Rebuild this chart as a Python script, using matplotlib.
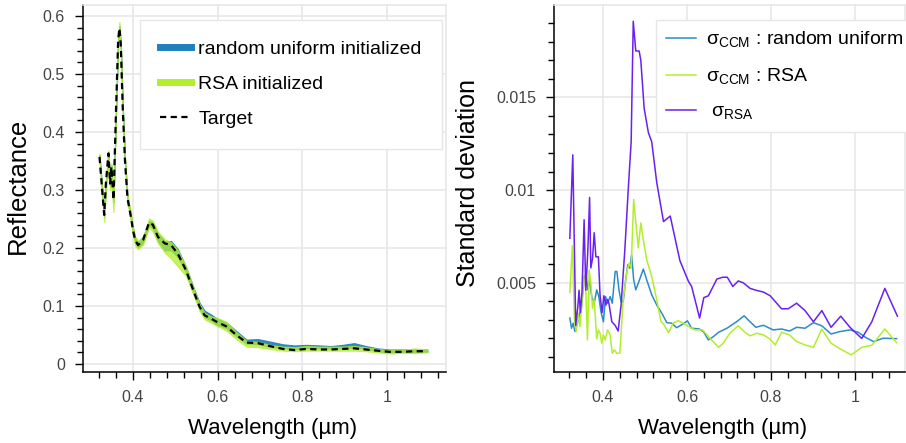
import numpy as np
import matplotlib
matplotlib.use("Agg")
import matplotlib.pyplot as plt
from matplotlib.lines import Line2D
from matplotlib.ticker import MultipleLocator, FixedLocator, FuncFormatter

plt.rcParams['font.family'] = ['Liberation Sans', 'DejaVu Sans']
plt.rcParams['mathtext.fontset'] = 'custom'
plt.rcParams['mathtext.rm'] = 'Liberation Sans'

# ---- left panel: reflectance ----
wl = [0.321, 0.326, 0.332, 0.336, 0.342, 0.346, 0.349, 0.354, 0.360, 0.365,
      0.368, 0.371, 0.376, 0.381, 0.387, 0.395, 0.400, 0.405, 0.412, 0.424,
      0.438, 0.447, 0.459, 0.475, 0.490, 0.506, 0.525, 0.545, 0.557, 0.569,
      0.585, 0.597, 0.620, 0.644, 0.668, 0.695, 0.722, 0.754, 0.781, 0.809,
      0.840, 0.868, 0.895, 0.922, 0.950, 0.977, 1.005, 1.035, 1.065, 1.095]
target = [0.357, 0.311, 0.257, 0.311, 0.363, 0.311, 0.340, 0.283, 0.438, 0.559,
          0.579, 0.553, 0.438, 0.352, 0.286, 0.254, 0.231, 0.214, 0.205, 0.214,
          0.244, 0.240, 0.219, 0.208, 0.205, 0.190, 0.162, 0.122, 0.099, 0.084,
          0.078, 0.073, 0.065, 0.050, 0.037, 0.036, 0.031, 0.026, 0.024, 0.026,
          0.025, 0.025, 0.026, 0.027, 0.025, 0.023, 0.021, 0.021, 0.022, 0.022]
ru_hi = [0.360, 0.315, 0.262, 0.315, 0.366, 0.315, 0.343, 0.288, 0.442, 0.563,
         0.583, 0.557, 0.442, 0.356, 0.290, 0.258, 0.235, 0.218, 0.210, 0.220,
         0.247, 0.244, 0.225, 0.212, 0.212, 0.198, 0.168, 0.128, 0.106, 0.092,
         0.085, 0.079, 0.072, 0.057, 0.042, 0.043, 0.039, 0.034, 0.032, 0.033,
         0.032, 0.031, 0.033, 0.036, 0.031, 0.027, 0.025, 0.025, 0.025, 0.025]
ru_lo = [0.353, 0.307, 0.253, 0.307, 0.359, 0.307, 0.336, 0.279, 0.434, 0.555,
         0.575, 0.549, 0.434, 0.348, 0.282, 0.250, 0.227, 0.209, 0.201, 0.209,
         0.239, 0.234, 0.212, 0.196, 0.196, 0.184, 0.158, 0.118, 0.096, 0.081,
         0.075, 0.068, 0.062, 0.048, 0.035, 0.034, 0.030, 0.027, 0.026, 0.027,
         0.027, 0.027, 0.027, 0.028, 0.026, 0.022, 0.020, 0.021, 0.021, 0.021]
rsa_hi = [0.362, 0.318, 0.265, 0.318, 0.368, 0.318, 0.346, 0.290, 0.446, 0.566,
          0.590, 0.562, 0.446, 0.360, 0.293, 0.262, 0.238, 0.220, 0.212, 0.220,
          0.251, 0.247, 0.228, 0.215, 0.210, 0.196, 0.168, 0.127, 0.104, 0.088,
          0.082, 0.080, 0.073, 0.055, 0.040, 0.038, 0.033, 0.030, 0.029, 0.031,
          0.030, 0.030, 0.030, 0.031, 0.029, 0.026, 0.024, 0.024, 0.027, 0.025]
rsa_lo = [0.350, 0.300, 0.245, 0.295, 0.340, 0.300, 0.310, 0.262, 0.425, 0.550,
          0.570, 0.545, 0.428, 0.344, 0.278, 0.245, 0.222, 0.204, 0.198, 0.206,
          0.236, 0.228, 0.208, 0.192, 0.182, 0.168, 0.152, 0.115, 0.092, 0.077,
          0.071, 0.066, 0.058, 0.043, 0.030, 0.029, 0.026, 0.023, 0.022, 0.023,
          0.023, 0.023, 0.023, 0.023, 0.022, 0.020, 0.018, 0.019, 0.019, 0.020]

# ---- right panel: standard deviations ----
wl_ru = [0.321, 0.325, 0.329, 0.333, 0.340, 0.345, 0.349, 0.353, 0.359, 0.364,
         0.368, 0.373, 0.379, 0.385, 0.390, 0.395, 0.401, 0.406, 0.411, 0.417,
         0.422, 0.429, 0.433, 0.438, 0.443, 0.448, 0.454, 0.459, 0.464, 0.468,
         0.473, 0.478, 0.484, 0.496, 0.504, 0.516, 0.528, 0.540, 0.552, 0.564,
         0.575, 0.587, 0.601, 0.611, 0.629, 0.639, 0.651, 0.663, 0.675, 0.695,
         0.718, 0.736, 0.750, 0.764, 0.782, 0.805, 0.825, 0.844, 0.861, 0.881,
         0.901, 0.921, 0.943, 0.964, 0.988, 1.008, 1.024, 1.044, 1.067, 1.099]
sd_ru = [0.00310, 0.00255, 0.00282, 0.00237, 0.00290, 0.00336, 0.00372, 0.00480, 0.00552, 0.00462,
         0.00516, 0.00426, 0.00390, 0.00462, 0.00426, 0.00345, 0.00290, 0.00426, 0.00390, 0.00426,
         0.00390, 0.00561, 0.00561, 0.00462, 0.00399, 0.00399, 0.00516, 0.00597, 0.00579, 0.00651,
         0.00516, 0.00462, 0.00498, 0.00574, 0.00516, 0.00435, 0.00380, 0.00336, 0.00285, 0.00282,
         0.00258, 0.00273, 0.00295, 0.00255, 0.00251, 0.00237, 0.00192, 0.00210, 0.00233, 0.00255,
         0.00290, 0.00322, 0.00290, 0.00260, 0.00271, 0.00246, 0.00251, 0.00240, 0.00260, 0.00255,
         0.00285, 0.00268, 0.00224, 0.00237, 0.00246, 0.00233, 0.00207, 0.00183, 0.00201, 0.00199]

wl_rsa_ccm = [0.321, 0.327, 0.332, 0.336, 0.341, 0.345, 0.349, 0.354, 0.359, 0.363,
              0.367, 0.371, 0.375, 0.379, 0.385, 0.389, 0.393, 0.397, 0.401, 0.405,
              0.411, 0.417, 0.422, 0.427, 0.433, 0.440, 0.448, 0.456, 0.462, 0.467,
              0.473, 0.479, 0.484, 0.490, 0.496, 0.504, 0.516, 0.528, 0.538, 0.544,
              0.556, 0.567, 0.579, 0.591, 0.607, 0.619, 0.637, 0.655, 0.675, 0.686,
              0.702, 0.722, 0.738, 0.750, 0.766, 0.782, 0.798, 0.810, 0.825, 0.844,
              0.861, 0.881, 0.901, 0.921, 0.943, 0.966, 0.991, 1.016, 1.040, 1.071, 1.099]
sd_rsa_ccm = [0.00448, 0.00700, 0.00300, 0.00237, 0.00336, 0.00264, 0.00363, 0.00534, 0.00462, 0.00192,
              0.00570, 0.00498, 0.00363, 0.00408, 0.00197, 0.00246, 0.00228, 0.00174, 0.00219, 0.00192,
              0.00246, 0.00219, 0.00120, 0.00138, 0.00120, 0.00120, 0.00408, 0.00552, 0.00606, 0.00579,
              0.00949, 0.00804, 0.00688, 0.00823, 0.00732, 0.00624, 0.00534, 0.00408, 0.00290, 0.00278,
              0.00231, 0.00282, 0.00296, 0.00282, 0.00260, 0.00246, 0.00246, 0.00200, 0.00152, 0.00174,
              0.00228, 0.00268, 0.00233, 0.00214, 0.00228, 0.00219, 0.00196, 0.00165, 0.00233, 0.00219,
              0.00183, 0.00165, 0.00152, 0.00250, 0.00174, 0.00142, 0.00111, 0.00152, 0.00163, 0.00251, 0.00177]

wl_rsa = [0.321, 0.328, 0.335, 0.340, 0.343, 0.346, 0.350, 0.355, 0.359, 0.364,
          0.368, 0.371, 0.375, 0.379, 0.383, 0.389, 0.393, 0.398, 0.402, 0.407,
          0.411, 0.414, 0.421, 0.429, 0.436, 0.443, 0.452, 0.460, 0.467, 0.472,
          0.478, 0.486, 0.490, 0.498, 0.508, 0.516, 0.528, 0.544, 0.560, 0.583,
          0.603, 0.611, 0.630, 0.640, 0.651, 0.671, 0.685, 0.696, 0.709, 0.722,
          0.734, 0.750, 0.764, 0.782, 0.798, 0.825, 0.841, 0.861, 0.881, 0.901,
          0.921, 0.943, 0.966, 0.988, 1.016, 1.040, 1.071, 1.101]
sd_rsa = [0.0074, 0.0119, 0.0027, 0.0037, 0.0046, 0.0034, 0.0045, 0.0084, 0.0046, 0.0068,
          0.0096, 0.0058, 0.0063, 0.0077, 0.0064, 0.0064, 0.0043, 0.0034, 0.0043, 0.0038,
          0.0041, 0.0039, 0.0029, 0.0027, 0.0024, 0.0038, 0.0068, 0.0100, 0.0126, 0.0191,
          0.0175, 0.0175, 0.0170, 0.0144, 0.0131, 0.0126, 0.0104, 0.0083, 0.0086, 0.0062,
          0.0051, 0.0048, 0.0031, 0.0042, 0.0043, 0.0052, 0.0053, 0.0053, 0.0048, 0.0051,
          0.0050, 0.0047, 0.0046, 0.0045, 0.0043, 0.0036, 0.0036, 0.0039, 0.0035, 0.0029,
          0.0035, 0.0026, 0.0032, 0.0026, 0.0020, 0.0029, 0.0047, 0.0032]

blue = "#1f80bd"
green = "#b3ee2c"
purple = "#6a20f0"
light = "#e6e6e6"


def style_axes(ax, xlabel_x):
	ax.grid(True, color=light, lw=1.1, zorder=0)
	ax.set_axisbelow(True)
	for s in ("top", "right"):
		ax.spines[s].set_color(light)
		ax.spines[s].set_linewidth(1.1)
	for s in ("left", "bottom"):
		ax.spines[s].set_linewidth(1.1)
	ax.tick_params(which="major", direction="out", length=6, width=1,
	               pad=7, labelsize=11.5, labelcolor="#444444")
	ax.tick_params(which="minor", direction="out", length=4, width=1)
	ax.xaxis.set_major_locator(MultipleLocator(0.2))
	ax.xaxis.set_minor_locator(MultipleLocator(0.04))
	fmt = FuncFormatter(lambda v, p: f"{v:g}")
	ax.xaxis.set_major_formatter(fmt)
	ax.yaxis.set_major_formatter(fmt)
	ax.set_xlabel("Wavelength (µm)", fontsize=16)
	ax.xaxis.set_label_coords(xlabel_x, -0.125)


fig = plt.figure(figsize=(9.06, 4.43), dpi=100)
ax1 = fig.add_axes([83 / 906, 71 / 443, 363 / 906, 367 / 443])
ax2 = fig.add_axes([554 / 906, 71 / 443, 351 / 906, 367 / 443])

# left
ax1.fill_between(wl, ru_lo, ru_hi, color=blue, alpha=0.9, lw=0.8, zorder=2)
ax1.fill_between(wl, rsa_lo, rsa_hi, color=green, alpha=0.75, lw=0.8, zorder=3)
ax1.plot(wl, target, color="black", lw=1.6, ls=(0, (2.8, 2)), zorder=4)
ax1.set_xlim(0.282, 1.139)
ax1.set_ylim(-0.0138, 0.619)
ax1.yaxis.set_major_locator(MultipleLocator(0.1))
ax1.yaxis.set_minor_locator(MultipleLocator(0.02))
style_axes(ax1, 0.523)
ax1.set_ylabel("Reflectance", fontsize=18.5)
ax1.yaxis.set_label_coords(-0.146, 0.508)

handles1 = [Line2D([], [], color=blue, lw=5),
            Line2D([], [], color=green, lw=5),
            Line2D([], [], color="black", lw=1.6, ls=(0, (2.8, 2)))]
leg1 = ax1.legend(handles1, ["random uniform initialized", "RSA initialized", "Target"],
                  loc="upper left", bbox_to_anchor=(140 / 906, 1 - 20 / 443),
                  bbox_transform=fig.transFigure, fontsize=14, borderpad=1.05,
                  handlelength=1.55, handletextpad=0.4, labelspacing=0.9,
                  borderaxespad=0, fancybox=False, framealpha=1)
leg1.get_frame().set_edgecolor(light)
leg1.get_frame().set_linewidth(1)

# right
ax2.plot(wl_ru, sd_ru, color="#2b8cc6", lw=1.1, zorder=3, label=r"σ$_{\mathrm{CCM}}$ : random uniform")
ax2.plot(wl_rsa_ccm, sd_rsa_ccm, color=green, lw=1.1, zorder=3, label=r"σ$_{\mathrm{CCM}}$ : RSA")
ax2.plot(wl_rsa, sd_rsa, color=purple, lw=1.1, zorder=4, label=r" σ$_{\mathrm{RSA}}$")
ax2.set_xlim(0.2833, 1.119)
ax2.set_ylim(0.00019, 0.01998)
ax2.yaxis.set_major_locator(FixedLocator([0.005, 0.01, 0.015]))
ax2.yaxis.set_minor_locator(MultipleLocator(0.001))
style_axes(ax2, 0.481)
ax2.set_ylabel("Standard deviation", fontsize=18)
ax2.yaxis.set_label_coords(-0.21, 0.516)

leg2 = ax2.legend(loc="upper left", bbox_to_anchor=(656 / 906, 1 - 20 / 443),
                  bbox_transform=fig.transFigure, fontsize=14, borderpad=0.5,
                  handlelength=1.55, handletextpad=0.5, labelspacing=0.85,
                  borderaxespad=0, fancybox=False, framealpha=1)
leg2.get_frame().set_edgecolor(light)
leg2.get_frame().set_linewidth(1)

fig.savefig("out.png", dpi=100)
